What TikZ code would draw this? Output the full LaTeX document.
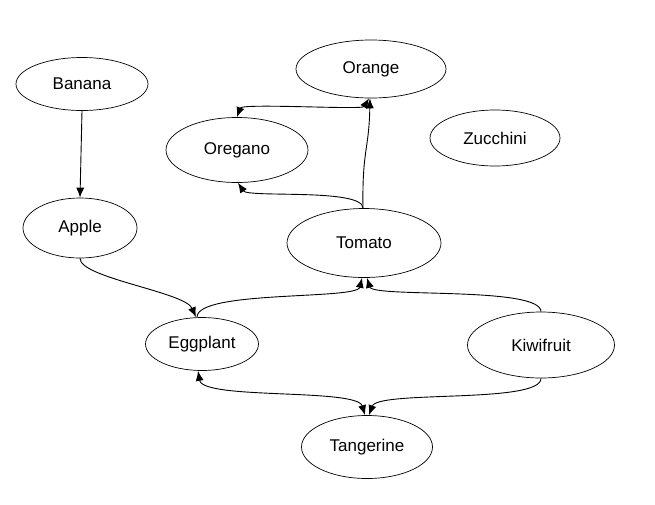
\documentclass[tikz,border=0pt]{standalone}
\usepackage{fontspec}
\setmainfont{Liberation Sans}
\usetikzlibrary{shapes.geometric,arrows.meta}

\tikzset{
  fruit/.style={ellipse, draw, line width=0.7pt, inner sep=0pt, font=\fontsize{17}{19}\selectfont},
  arr/.style={line width=0.9pt, -{Latex[length=10pt,width=8pt]}},
  biarr/.style={line width=0.9pt, {Latex[length=10pt,width=8pt]}-{Latex[length=10pt,width=8pt]}}
}

\begin{document}
\begin{tikzpicture}[x=1pt,y=-1pt]
    \useasboundingbox (0,0) rectangle (655,504);
    \node[fruit, minimum width=132pt, minimum height=53pt] (banana) at (82,84) {Banana};
    \node[fruit, minimum width=114pt, minimum height=60pt] (apple) at (80,228) {Apple};
    \node[fruit, minimum width=142pt, minimum height=65pt] (oregano) at (237,150) {Oregano};
    \node[fruit, minimum width=150pt, minimum height=58pt] (orange) at (371,69) {Orange};
    \node[fruit, minimum width=130pt, minimum height=56pt] (zucchini) at (495,138) {Zucchini};
    \node[fruit, minimum width=154pt, minimum height=69pt] (tomato) at (364,243) {Tomato};
    \node[fruit, minimum width=113pt, minimum height=53pt] (eggplant) at (202,344) {Eggplant};
    \node[fruit, minimum width=147pt, minimum height=66pt] (kiwifruit) at (541,345) {Kiwifruit};
    \node[fruit, minimum width=131pt, minimum height=63pt] (tangerine) at (367,447) {Tangerine};
    \draw[arr] (banana.south) -- (apple.north);
    \draw[arr] (apple.south) .. controls (80,278) and (185,292) .. ([xshift=-6pt]eggplant.north);
    \draw[arr] ([xshift=-5pt]eggplant.north) .. controls (197,290) and (357,300) .. ([xshift=-2pt]tomato.south);
    \draw[arr] (kiwifruit.north) .. controls (541,286) and (373,298) .. ([xshift=3pt]tomato.south);
    \draw[arr] ([xshift=-1pt]tomato.north) .. controls (363,188) and (248,198) .. ([xshift=1pt]oregano.south);
    \draw[arr] ([xshift=-1pt]tomato.north) .. controls (362,150) and (369,150) .. ([xshift=-1pt]orange.south);
    \draw[biarr] (oregano.north) .. controls (242,103) and (362,110) .. ([xshift=-2pt]orange.south);
    \draw[biarr] ([xshift=-4pt]eggplant.south) .. controls (203,400) and (357,388) .. ([xshift=-2pt]tangerine.north);
    \draw[arr] (kiwifruit.south) .. controls (541,404) and (378,390) .. ([xshift=2pt]tangerine.north);
\end{tikzpicture}
\end{document}
